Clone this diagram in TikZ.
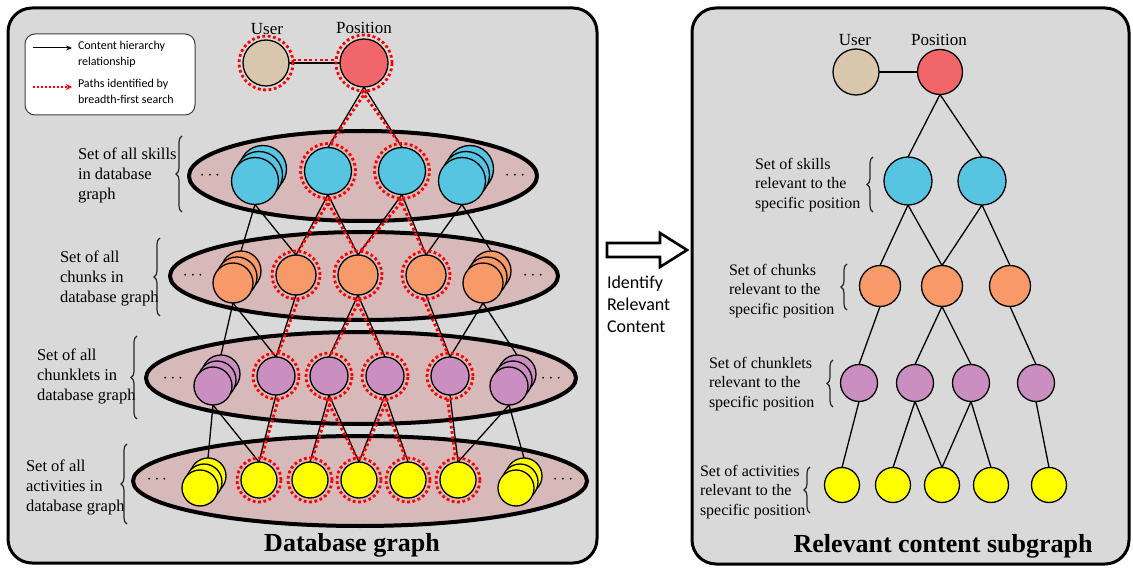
\documentclass[tikz,border=0pt]{standalone}
\usepackage{fontspec}
\setmainfont{Liberation Serif}
\newfontfamily\calibri{Carlito}
\usetikzlibrary{shapes.geometric,decorations.pathreplacing,arrows.meta}
\pgfdeclarelayer{bg}
\pgfdeclarelayer{links}
\pgfsetlayers{bg,links,main}

\definecolor{panelgray}{RGB}{217,217,217}
\definecolor{setfill}{RGB}{216,185,186}
\definecolor{usercol}{RGB}{216,199,172}
\definecolor{poscol}{RGB}{240,102,106}
\definecolor{skillcol}{RGB}{87,197,226}
\definecolor{chunkcol}{RGB}{247,153,104}
\definecolor{kletcol}{RGB}{203,142,192}
\definecolor{actcol}{RGB}{255,255,0}

\tikzset{
  every node/.style={inner sep=0pt, outer sep=0pt},
  vtx/.style={circle, draw=black, line width=1.3pt, inner sep=0pt},
  usernode/.style={vtx, fill=usercol, minimum size=46pt},
  posnode/.style={vtx, fill=poscol, minimum size=48pt},
  skillnode/.style={vtx, fill=skillcol, minimum size=47pt},
  chunknode/.style={vtx, fill=chunkcol, minimum size=40pt},
  kletnode/.style={vtx, fill=kletcol, minimum size=38pt},
  actnode/.style={vtx, fill=actcol, minimum size=36pt},
  ring/.style={circle, draw=red, line width=2.8pt, dash pattern=on 2.8pt off 2.6pt, inner sep=0pt, minimum size=#1},
  bfs/.style={draw=red, line width=2.8pt, dash pattern=on 2.8pt off 2.6pt},
  link/.style={draw=black, line width=1.3pt},
  panel/.style={fill=panelgray, draw=black, line width=3pt, rounded corners=24pt},
  pool/.style={ellipse, draw=black, line width=4pt, fill=setfill, inner sep=0pt},
  gap/.style={font=\fontsize{18}{20}\selectfont},
  lbl/.style={anchor=west, align=left, font=\fontsize{16.5}{20}\selectfont},
  rlbl/.style={anchor=west, align=left, font=\fontsize{16}{19.5}\selectfont},
  head/.style={font=\fontsize{17}{20}\selectfont},
  ttl/.style={font=\bfseries\fontsize{26}{30}\selectfont},
  brc/.style={draw=black!85, line width=1.2pt, decorate, decoration={brace, amplitude=6pt}},
  legtxt/.style={anchor=west, align=left, font=\calibri\fontsize{12}{15.5}\selectfont},
}

% three overlapping circles: front one lowest, the others up and to the right
\newcommand\vstack[4]{%
  \node[#1] (#2c) at (#3+8,#4-12) {};
  \node[#1] (#2b) at (#3+4,#4-6) {};
  \node[#1] (#2) at (#3,#4) {};
}
% search path between two ringed nodes, set slightly beside the hierarchy line
\newcommand\searchpath[3]{%
  \draw[bfs] ([xshift=#3]#1.south) -- ([xshift=#3]#2.north);
}

\begin{document}
\begin{tikzpicture}[x=1pt,y=-1pt]
\useasboundingbox (0,0) rectangle (1133,569);

\begin{pgfonlayer}{bg}
  \fill[white] (0,0) rectangle (1133,569);
  \draw[panel] (8,8) rectangle (597,563);
  \draw[panel] (692,8) rectangle (1129,564);
  \node[pool, minimum width=348pt, minimum height=90pt] (skillset) at (363,176) {};
  \node[pool, minimum width=388pt, minimum height=88pt] (chunkset) at (364,276) {};
  \node[pool, minimum width=430pt, minimum height=92pt] (kletset) at (361,378) {};
  \node[pool, minimum width=454pt, minimum height=90pt] (actset) at (360,481) {};
\end{pgfonlayer}

% ---------- legend ----------
\node[draw=black!75, line width=1pt, fill=white, rounded corners=10pt,
      minimum width=170pt, minimum height=81pt] (legend) at (110,74.5) {};
\coordinate (la1) at (33,48);
\coordinate (lb1) at (72,48);
\coordinate (la2) at (33,87);
\coordinate (lb2) at (72,87);
\draw[link, line width=1pt, -{Stealth[length=6pt,width=5pt]}] (la1) -- (lb1);
\draw[bfs, line width=2pt, dash pattern=on 2pt off 2pt, -{Stealth[length=6pt,width=6pt,fill=red]}] (la2) -- (lb2);
\node[legtxt] (lt1) at (78,54.5) {Content hierarchy\\relationship};
\node[legtxt] (lt2) at (78,91.5) {Paths identified by\\breadth-first search};

% ---------- database graph ----------
\node[head] (userlbl) at (267,29) {User};
\node[head] (poslbl) at (364,28) {Position};
\node[ring=54pt] (userLr) at (266,63) {};
\node[ring=56pt] (posLr) at (364,63) {};
\node[usernode] (userL) at (266,63) {};
\node[posnode] (posL) at (364,63) {};

% skills
\node[ring=55pt] (S1r) at (328,171) {};
\node[ring=55pt] (S2r) at (402,171) {};
\vstack{skillnode}{S0}{255}{181}
\node[skillnode] (S1) at (328,171) {};
\node[skillnode] (S2) at (402,171) {};
\vstack{skillnode}{S3}{462}{181}
\node[gap] (skdl) at (210,176) {$\cdots$};
\node[gap] (skdr) at (515,176) {$\cdots$};

% chunks
\node[ring=48pt] (C1r) at (296,275) {};
\node[ring=48pt] (C2r) at (358,275) {};
\node[ring=48pt] (C3r) at (426,275) {};
\vstack{chunknode}{C0}{233}{283}
\node[chunknode] (C1) at (296,275) {};
\node[chunknode] (C2) at (358,275) {};
\node[chunknode] (C3) at (426,275) {};
\vstack{chunknode}{C4}{483}{283}
\node[gap] (chdl) at (193,276) {$\cdots$};
\node[gap] (chdr) at (533,276) {$\cdots$};

% chunklets
\node[ring=46pt] (K1r) at (276,376) {};
\node[ring=46pt] (K2r) at (329,376) {};
\node[ring=46pt] (K3r) at (385,376) {};
\node[ring=46pt] (K4r) at (450,376) {};
\vstack{kletnode}{K0}{213}{386}
\node[kletnode] (K1) at (276,376) {};
\node[kletnode] (K2) at (329,376) {};
\node[kletnode] (K3) at (385,376) {};
\node[kletnode] (K4) at (450,376) {};
\vstack{kletnode}{K5}{509}{386}
\node[gap] (kldl) at (173,379) {$\cdots$};
\node[gap] (kldr) at (551,379) {$\cdots$};

% activities
\node[ring=44pt] (A1r) at (259,480) {};
\node[ring=44pt] (A2r) at (310,480) {};
\node[ring=44pt] (A3r) at (359,480) {};
\node[ring=44pt] (A4r) at (408,480) {};
\node[ring=44pt] (A5r) at (458,480) {};
\vstack{actnode}{A0}{200}{488}
\node[actnode] (A1) at (259,480) {};
\node[actnode] (A2) at (310,480) {};
\node[actnode] (A3) at (359,480) {};
\node[actnode] (A4) at (408,480) {};
\node[actnode] (A5) at (458,480) {};
\vstack{actnode}{A6}{516}{488}
\node[gap] (acdl) at (157,480) {$\cdots$};
\node[gap] (acdr) at (563,480) {$\cdots$};

% layer labels and braces
\node[lbl] (skL) at (78,175) {Set of all skills\\in database\\graph};
\draw[brc] (182,212) -- (182,136);
\node[lbl] (chL) at (60,278) {Set of all\\chunks in\\database graph};
\draw[brc] (160,316) -- (160,238);
\node[lbl] (klL) at (37,376) {Set of all\\chunklets in\\database graph};
\draw[brc] (137,419) -- (137,336);
\node[lbl] (acL) at (26,487) {Set of all\\activities in\\database graph};
\draw[brc] (127,524) -- (127,444);

\node[ttl] (dbtitle) at (352,545) {Database graph};

% ---------- middle arrow ----------
\draw[line width=2.6pt, fill=white, line join=miter]
  (607,243) -- (660,243) -- (660,233) -- (687,250) -- (660,267) -- (660,257) -- (607,257) -- cycle;
\node[anchor=west, align=left, font=\calibri\fontsize{18}{22}\selectfont] (idtxt) at (607,304)
  {Identify\\Relevant\\Content};

% ---------- relevant content subgraph ----------
\node[head] (ruserlbl) at (855,40) {User};
\node[head] (rposlbl) at (939,40) {Position};
\node[usernode] (uR) at (856,72) {};
\node[posnode, minimum size=45pt] (pR) at (940,72) {};
\node[skillnode, minimum size=48pt] (rs1) at (908,181) {};
\node[skillnode, minimum size=48pt] (rs2) at (982,181) {};
\node[chunknode, minimum size=41pt] (rc1) at (880,286) {};
\node[chunknode, minimum size=41pt] (rc2) at (942,286) {};
\node[chunknode, minimum size=41pt] (rc3) at (1010,286) {};
\node[kletnode, minimum size=37pt] (rk1) at (859,383) {};
\node[kletnode, minimum size=37pt] (rk2) at (915,383) {};
\node[kletnode, minimum size=37pt] (rk3) at (971,383) {};
\node[kletnode, minimum size=37pt] (rk4) at (1036,383) {};
\node[actnode, minimum size=35pt] (ra1) at (842,485) {};
\node[actnode, minimum size=35pt] (ra2) at (893,485) {};
\node[actnode, minimum size=35pt] (ra3) at (942,485) {};
\node[actnode, minimum size=35pt] (ra4) at (991,485) {};
\node[actnode, minimum size=35pt] (ra5) at (1049,485) {};

\node[rlbl] (rskL) at (755,185) {Set of skills\\relevant to the\\specific position};
\draw[brc] (873,212) -- (873,157);
\node[rlbl] (rchL) at (729,291) {Set of chunks\\relevant to the\\specific position};
\draw[brc] (847,310) -- (847,264);
\node[rlbl] (rklL) at (709,384) {Set of chunklets\\relevant to the\\specific position};
\draw[brc] (833,407) -- (833,360);
\node[rlbl] (racL) at (700,492) {Set of activities\\relevant to the\\specific position};
\draw[brc] (810,513) -- (810,467);

\node[ttl] (rtitle) at (943,546) {Relevant content subgraph};

% ---------- connectors ----------
\begin{pgfonlayer}{links}
  % content hierarchy, database graph
  \draw[link] (userL.east) -- (posL.west);
  \draw[link] (posL.south) -- (S1.north);
  \draw[link] (posL.south) -- (S2.north);
  \draw[link] (S0.south) -- (C0c.north);
  \draw[link] (S0.south) -- (C1.north);
  \draw[link] (S1.south) -- (C1.north);
  \draw[link] (S1.south) -- (C2.north);
  \draw[link] (S2.south) -- (C2.north);
  \draw[link] (S2.south) -- (C3.north);
  \draw[link] (S3.south) -- (C3.north);
  \draw[link] (S3.south) -- (C4c.north);
  \draw[link] (C0.south) -- (K0c.north);
  \draw[link] (C0.south) -- (K1.north);
  \draw[link] (C1.south) -- (K1.north);
  \draw[link] (C2.south) -- (K2.north);
  \draw[link] (C2.south) -- (K3.north);
  \draw[link] (C3.south) -- (K4.north);
  \draw[link] (C4.south) -- (K4.north);
  \draw[link] (C4.south) -- (K5c.north);
  \draw[link] (K0.south) -- (A0c.north);
  \draw[link] (K0.south) -- (A1.north);
  \draw[link] (K1.south) -- (A1.north);
  \draw[link] (K2.south) -- (A2.north);
  \draw[link] (K2.south) -- (A3.north);
  \draw[link] (K3.south) -- (A3.north);
  \draw[link] (K3.south) -- (A4.north);
  \draw[link] (K4.south) -- (A5.north);
  \draw[link] (K5.south) -- (A5.north);
  \draw[link] (K5.south) -- (A6c.north);
  % breadth-first search paths
  \draw[bfs] ([yshift=3pt]userLr.east) -- ([yshift=3pt]posLr.west);
  \searchpath{posLr}{S1r}{2.5pt}
  \searchpath{posLr}{S2r}{-2.5pt}
  \searchpath{S1r}{C1r}{2.5pt}
  \searchpath{S1r}{C2r}{-2.5pt}
  \searchpath{S2r}{C2r}{2.5pt}
  \searchpath{S2r}{C3r}{-2.5pt}
  \searchpath{C1r}{K1r}{2.5pt}
  \searchpath{C2r}{K2r}{2.5pt}
  \searchpath{C2r}{K3r}{-2.5pt}
  \searchpath{C3r}{K4r}{-2.5pt}
  \searchpath{K1r}{A1r}{2.5pt}
  \searchpath{K2r}{A2r}{2.5pt}
  \searchpath{K2r}{A3r}{-2.5pt}
  \searchpath{K3r}{A3r}{2.5pt}
  \searchpath{K3r}{A4r}{-2.5pt}
  \searchpath{K4r}{A5r}{-2.5pt}
  % relevant subgraph
  \draw[link] (uR.east) -- (pR.west);
  \draw[link] (pR.south) -- (rs1.north);
  \draw[link] (pR.south) -- (rs2.north);
  \draw[link] (rs1.south) -- (rc1.north);
  \draw[link] (rs1.south) -- (rc2.north);
  \draw[link] (rs2.south) -- (rc2.north);
  \draw[link] (rs2.south) -- (rc3.north);
  \draw[link] (rc1.south) -- (rk1.north);
  \draw[link] (rc2.south) -- (rk2.north);
  \draw[link] (rc2.south) -- (rk3.north);
  \draw[link] (rc3.south) -- (rk4.north);
  \draw[link] (rk1.south) -- (ra1.north);
  \draw[link] (rk2.south) -- (ra2.north);
  \draw[link] (rk2.south) -- (ra3.north);
  \draw[link] (rk3.south) -- (ra3.north);
  \draw[link] (rk3.south) -- (ra4.north);
  \draw[link] (rk4.south) -- (ra5.north);
\end{pgfonlayer}
\end{tikzpicture}
\end{document}
